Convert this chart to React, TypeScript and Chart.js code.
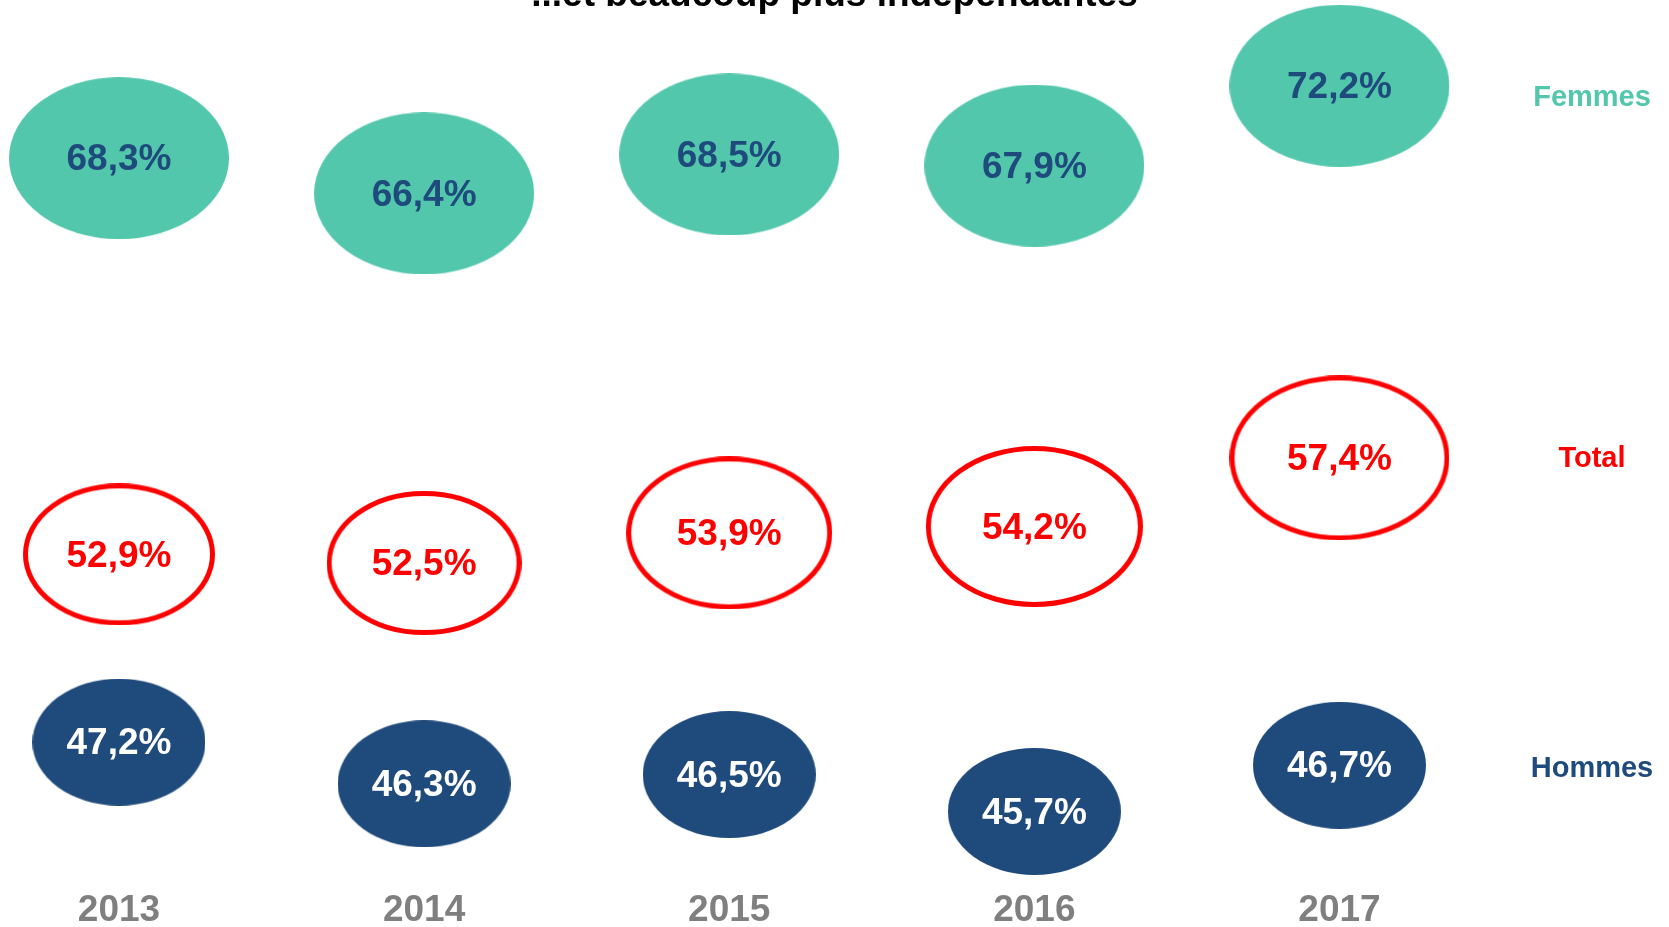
import React, { useEffect, useRef } from "react";
import { Chart, registerables } from "chart.js";

Chart.register(...registerables);

// ---- data ----
const years = [2013, 2014, 2015, 2016, 2017];
const femmes = [68.3, 66.4, 68.5, 67.9, 72.2];
const total = [52.9, 52.5, 53.9, 54.2, 57.4];
const hommes = [47.2, 46.3, 46.5, 45.7, 46.7];
const seriesNames = ["Femmes", "Total", "Hommes"];
const titleText = "...et beaucoup plus indépendantes";

// ---- styles ----
const TEAL = "#52C7AC";
const NAVY = "#1F4A7C";
const RED = "#FF0000";
const GREY = "#7F7F7F";
const FONT = "Arial, 'Liberation Sans', sans-serif";

const FEMMES_SIZE = { w: 220, h: 162 };
const HOMMES_SIZE = { w: 173, h: 127 };
const TOTAL_W = [192, 195, 206, 217, 220];
const TOTAL_H = [142, 144, 153, 161, 165];
const TOTAL_STROKE = 5;

function makeEllipse(w: number, h: number, fill: string | null, stroke: string | null, lw: number) {
  const c = document.createElement("canvas");
  c.width = w;
  c.height = h;
  const ctx = c.getContext("2d")!;
  ctx.beginPath();
  ctx.ellipse(w / 2, h / 2, w / 2 - lw / 2, h / 2 - lw / 2, 0, 0, Math.PI * 2);
  if (fill) {
    ctx.fillStyle = fill;
    ctx.fill();
  }
  if (stroke) {
    ctx.lineWidth = lw;
    ctx.strokeStyle = stroke;
    ctx.stroke();
  }
  return c;
}

const fmt = (v: number) => v.toFixed(1).replace(".", ",") + "%";

const labelsPlugin = {
  id: "valueLabels",
  afterDatasetsDraw(chart: any) {
    const ctx = chart.ctx;
    chart.data.datasets.forEach((ds: any, di: number) => {
      const meta = chart.getDatasetMeta(di);
      ctx.save();
      ctx.textAlign = "center";
      ctx.textBaseline = "middle";
      ctx.font = `bold 37px ${FONT}`;
      ctx.fillStyle = ds.textColor;
      meta.data.forEach((el: any, i: number) => {
        ctx.fillText(fmt(ds.data[i].y), el.x, el.y + 2);
      });
      const last = meta.data[meta.data.length - 1];
      ctx.font = `bold 29px ${FONT}`;
      ctx.fillStyle = ds.nameColor;
      ctx.fillText(ds.label, chart.chartArea.right - 77, last.y + ds.nameOffset);
      ctx.restore();
    });
  },
};

export default function App() {
  const ref = useRef<HTMLCanvasElement | null>(null);

  useEffect(() => {
    if (!ref.current) return;
    Chart.defaults.font.family = FONT;

    const femmesImgs = years.map(() => makeEllipse(FEMMES_SIZE.w, FEMMES_SIZE.h, TEAL, null, 0));
    const hommesImgs = years.map(() => makeEllipse(HOMMES_SIZE.w, HOMMES_SIZE.h, NAVY, null, 0));
    const totalImgs = years.map((_, i) => makeEllipse(TOTAL_W[i], TOTAL_H[i], null, RED, TOTAL_STROKE));

    const chart = new Chart(ref.current, {
      type: "scatter",
      data: {
        datasets: [
          {
            label: seriesNames[0],
            data: years.map((x, i) => ({ x, y: femmes[i] })),
            yAxisID: "yF",
            pointStyle: (c: any) => femmesImgs[c.dataIndex ?? 0],
            pointRadius: 2,
            showLine: false,
            clip: false,
            textColor: NAVY,
            nameColor: TEAL,
            nameOffset: 12,
          } as any,
          {
            label: seriesNames[1],
            data: years.map((x, i) => ({ x, y: total[i] })),
            yAxisID: "yT",
            pointStyle: (c: any) => totalImgs[c.dataIndex ?? 0],
            pointRadius: 2,
            showLine: false,
            clip: false,
            textColor: RED,
            nameColor: RED,
            nameOffset: 1,
          } as any,
          {
            label: seriesNames[2],
            data: years.map((x, i) => ({ x, y: hommes[i] })),
            yAxisID: "yH",
            pointStyle: (c: any) => hommesImgs[c.dataIndex ?? 0],
            pointRadius: 2,
            showLine: false,
            clip: false,
            textColor: "#FFFFFF",
            nameColor: NAVY,
            nameOffset: 4,
          } as any,
        ],
      },
      options: {
        responsive: false,
        animation: false,
        events: [],
        layout: { padding: 0, autoPadding: false },
        plugins: {
          legend: { display: false },
          tooltip: { enabled: false },
          title: {
            display: true,
            text: titleText,
            color: "#000000",
            font: { size: 37, weight: "bold", family: FONT },
            padding: { top: 0, bottom: 0 },
          },
        },
        scales: {
          x: {
            type: "linear",
            min: 2012.61,
            max: 2018.08,
            afterBuildTicks: (s: any) => {
              s.ticks = years.map((v) => ({ value: v }));
            },
            ticks: {
              callback: (v: any) => String(v),
              font: { size: 37, weight: "bold", family: FONT },
              color: GREY,
              padding: 0,
              autoSkip: false,
              maxRotation: 0,
            },
            grid: { display: false, drawTicks: false },
            border: { display: false },
          },
          yF: { type: "linear", display: false, min: 28.94, max: 75.83 },
          yT: { type: "linear", display: false, min: 37.31, max: 77.9 },
          yH: { type: "linear", display: false, min: 44.03, max: 62.87 },
        },
      } as any,
      plugins: [labelsPlugin],
    });
    return () => chart.destroy();
  }, []);

  return (
    <div
      style={{
        position: "fixed",
        left: 0,
        top: 0,
        width: 1669,
        height: 927,
        overflow: "hidden",
        background: "#ffffff",
      }}
    >
      <div style={{ position: "absolute", left: 0, top: -26, width: 1669, height: 959 }}>
        <canvas ref={ref} width={1669} height={959} style={{ width: 1669, height: 959, display: "block" }} />
      </div>
    </div>
  );
}
